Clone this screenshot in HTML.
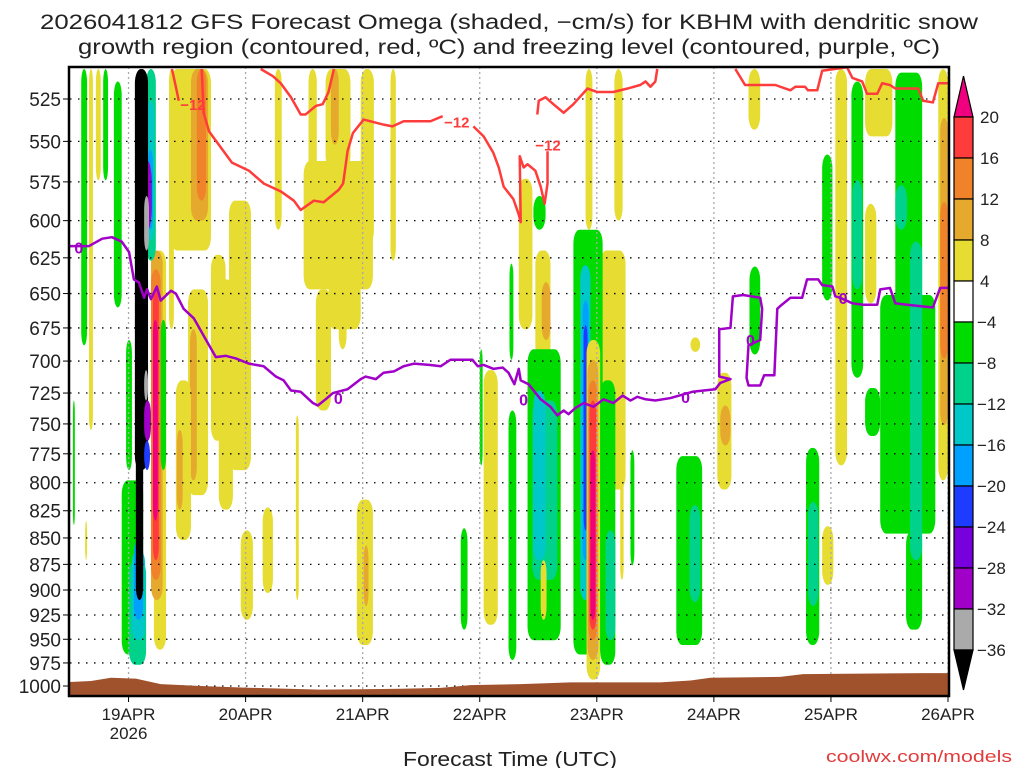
<!DOCTYPE html>
<html><head><meta charset="utf-8"><style>
html,body{margin:0;padding:0;background:#fff;}
svg{display:block;font-family:"Liberation Sans",sans-serif;}
</style></head><body>
<svg id="chart" width="1024" height="768" viewBox="0 0 1024 768" xmlns="http://www.w3.org/2000/svg">
<rect width="1024" height="768" fill="#fff"/>
<text x="40" y="29" font-size="21" fill="#222" textLength="938" lengthAdjust="spacingAndGlyphs">2026041812 GFS Forecast Omega (shaded, −cm/s) for KBHM with dendritic snow</text>
<text x="78" y="54" font-size="21" fill="#222" textLength="862" lengthAdjust="spacingAndGlyphs">growth region (contoured, red, ºC) and freezing level (contoured, purple, ºC)</text>
<defs><clipPath id="plotclip"><rect x="70" y="67" width="878" height="628"/></clipPath></defs>
<g id="shading" clip-path="url(#plotclip)"></g>
<g id="grid"></g>
<g id="ground" clip-path="url(#plotclip)"></g>
<g id="contours" clip-path="url(#plotclip)"></g>
<rect x="69" y="67" width="880" height="629" fill="none" stroke="#000" stroke-width="2.5"/>
<g id="axes"></g>
<g id="colorbar"></g>
<text x="510" y="766" font-size="20" fill="#222" text-anchor="middle" textLength="214" lengthAdjust="spacingAndGlyphs">Forecast Time (UTC)</text>
<text x="826" y="762" font-size="17" fill="#e03c3c" textLength="186" lengthAdjust="spacingAndGlyphs">coolwx.com/models</text>
</svg>
<script>
// ---- data ----
const levels = [525,550,575,600,625,650,675,700,725,750,775,800,825,850,875,900,925,950,975,1000];
const dayHours = [12,36,60,84,108,132,156,180];
const dayLabels = ["19APR","20APR","21APR","22APR","23APR","24APR","25APR","26APR"];
const cbValues = [20,16,12,8,4,-4,-8,-12,-16,-20,-24,-28,-32,-36];
// omega patches: start hour, end hour, top hPa, bottom hPa, value (-cm/s)
const patchH1 = [2.3,3.9,5.3,6.8,9.0,0.6,3.1,11.5,10.6,12.1,12.7,13.1,20.3,20.7,24.8,26.0,24.2,24.6,21.7,21.9,28.9,32.6,35.0,30.5,17.2,16.6,16.6,18.6,15.6,15.8,16.0,16.0,15.2,17.0,17.0,13.3,13.5,15.2,15.2,15.2,15.2,39.5,46.3,58.8,60.2,42.0,48.9,52.4,59.6,47.9,50.4,55.1,53.0,53.5,65.7,80.1,84.8,84.0,90.1,92.0,95.0,95.4,96.7,89.9,93.8,94.8,95.0,96.5,105.7,111.6,108.7,103.2,104.6,105.1,105.3,105.9,106.1,106.3,106.5,106.7,108.7,109.8,114.9,112.8,124.3,127.0,127.2,132.7,133.3,139.3,139.1,150.9,151.3,154.2,154.2,156.9,160.2,160.4,163.0,163.0,169.2,166.1,163.0,171.4,169.2,172.2,178.0,178.4,178.4];
const patchH2 = [3.5,4.7,6.3,7.8,10.6,1.0,3.5,12.7,15.0,15.6,15.4,15.0,21.3,28.9,28.3,27.9,28.3,26.0,24.8,23.1,31.9,37.1,37.5,33.4,19.7,19.0,18.6,19.7,17.6,17.2,17.0,16.8,16.6,18.2,18.0,16.0,15.0,16.2,16.0,16.6,16.4,41.6,46.9,62.1,61.2,43.4,50.6,57.5,62.3,62.1,53.5,56.7,59.6,55.1,66.8,81.5,87.7,84.6,90.9,94.8,97.5,98.5,98.5,91.5,100.6,99.9,97.5,97.7,107.1,113.3,113.9,109.2,106.7,106.3,106.1,108.7,108.3,108.1,107.9,107.7,111.8,111.8,115.7,113.5,129.6,129.2,129.2,135.6,135.4,141.5,141.5,153.6,153.4,156.5,156.3,159.3,162.6,162.4,165.3,168.6,174.7,177.4,166.1,174.7,171.6,174.7,180,180,180];
const patchP1 = [508,508,508,508,515,731,834,684,798,871,861,852,508,508,508,508,647,676,715,755,623,587,843,640,620,620,633,669,508,526,555,567,562,647,669,508,770,584,707,731,764,822,743,815,857,508,508,508,508,562,647,647,640,508,508,841,707,691,629,573,584,620,642,739,691,731,723,871,508,508,620,606,630,655,673,684,699,715,731,772,715,843,772,759,777,820,682,709,735,631,508,770,817,839,558,508,515,574,589,508,510,651,721,843,577,614,508,536,588];
const patchP2 = [688,755,574,574,660,838,871,789,966,977,951,930,676,620,600,587,811,798,852,824,764,789,930,824,961,910,890,789,627,613,606,600,606,871,834,789,910,620,731,764,789,903,910,956,916,606,574,567,616,647,739,691,676,552,627,940,935,785,699,676,606,699,684,972,951,890,871,930,606,600,806,966,910,871,843,993,972,951,940,930,977,951,876,890,956,912,693,806,768,695,543,956,916,895,655,785,713,647,657,547,843,846,760,940,606,871,798,751,698];
const patchVal = [-5,5,5,-5,-5,-5,5,-5,-5,-9,-13,-17,5,5,9,13,5,9,5,9,5,5,5,5,5,9,13,-5,-9,-13,-17,-21,-29,17,22,-40,-40,-33,-33,-29,-21,5,5,5,9,5,5,5,5,5,5,5,5,9,5,-5,5,-5,-5,5,-5,5,9,-5,-5,-9,-13,5,5,5,5,-5,-13,-17,-21,5,9,13,17,22,-5,-9,-5,5,-5,-9,5,5,9,-5,5,-5,-9,5,-5,5,-5,-9,5,5,-5,-5,-5,-5,-9,-9,5,9,13];
// contours (hour, hPa)
const frzH = [0,3.9,6.6,8.6,10.6,12.1,13.1,14.1,15.2,15.8,16.6,17.8,18.6,20.7,21.7,23.3,25.4,27.9,29.9,31.9,34.0,36.7,39.7,42.2,43.8,45.3,47.3,49.8,50.8,52.4,53.9,56.9,59.6,60.6,62.7,64.3,66.4,68.4,70.5,73.9,76.0,78.0,80.1,82.5,83.6,84.8,86.8,88.7,89.9,91.1,92.0,92.4,94.0,96.5,98.5,99.9,101.2,102.2,103.6,105.3,107.3,109.4,111.4,113.3,114.9,116.3,118.0,120.0,123.1,127.6,132.3,133.3,135.4,133.1,133.1,135.4,135.9,138.0,141.5,141.9,141.5,139.1,138.7,139.1,141.5,142.3,144.4,145.0,145.6,147.7,150.1,151.1,153.4,154.2,156.3,156.9,157.9,160.4,162.6,165.5,166.1,168.1,169.2,171.6,176.9,178.4,180];
const frzP = [617,617,612,611,614,621,640,642,653,647,654,645,655,648,650,661,668,684,697,696,698,702,704,712,715,723,724,733,735,730,725,722,714,712,714,709,708,704,702,703,704,699,699,699,704,703,706,705,709,718,706,715,718,730,736,743,739,742,737,733,736,730,733,727,731,728,730,731,729,724,722,717,714,712,676,675,652,651,653,661,684,688,713,719,719,711,711,661,659,653,653,640,640,644,645,652,653,657,658,658,647,646,657,658,660,646,646];
const frzLabelH = [1.8,55.0,93.0,126.2,139.5,158.5];
const frzLabelP = [618,729,730,728,684,653];
const dgzAH = [20.9,21.7,22.3];
const dgzAP = [508,518,526];
const dgzB1H = [27.0,27.4,28.5,33.2,36.7,39.7,43.2,45.9,47.3,50.0,52.0,55.1,56.0,56.9,58.0,60.2,64.3,66.1,68.4,71.3,73.9,76.4];
const dgzB1P = [508,533,544,563,568,576,581,587,593,587,588,580,576,556,545,537,540,541,538,538,538,535];
const dgzB2H = [82.7,84.8,86.8,87.9,88.9,90.9,92.0,92.4,92.2,93.0,93.8,95.4,96.5,97.3,97.9,97.9];
const dgzB2P = [541,547,557,566,578,586,596,601,559,566,564,568,578,589,576,556];
const dgzB3H = [95.8,96.1,97.5,99.1,101.2,103.2,106.1,108.1,111.4,114.3,116.9,118.0,119.0,120.0,120.4];
const dgzB3P = [534,526,524,528,533,528,519,521,521,519,517,515,518,515,508];
const dgzCH = [39.1,41.6,43.2,45.3,47.3,48.3,50.4,51.8,53.0,54.1];
const dgzCP = [508,512,516,524,534,534,529,528,521,508];
const dgzDH = [136.4,138.4,144.6,147.7,148.7,150.7,151.3,153.2,154.2,159.3,160.4,162.4,163.4,165.5,166.5,168.1,169.2,173.9,174.9,176.9,178.0,180];
const dgzDP = [508,517,517,520,518,518,520,520,509,507,513,515,522,522,516,517,519,519,526,527,516,516];
const dgzLabelH = [25.2,79.3,98.0];
const dgzLabelP = [528,538,552];
const groundH = [0,4.3,8.4,13.5,18.6,26.8,37.1,51.4,67.8,76.0,82.1,92.4,102.6,121.0,127.2,131.3,145.6,150.3,174.9,180];
const groundP = [995.6,994.5,991,992,998,1000,1002,1004,1003,1002,999,998,996,996,994,991,990,987,986,986];

// ---- scales ----
const X0=70, X1=948, HMAX=180;
function xs(h){ return X0 + h*(X1-X0)/HMAX; }
function ys(p){ return 686 + 911*Math.log(p/1000); }
function color(v){
  if(v>20) return '#f0007f'; if(v>16) return '#ff3c3c'; if(v>12) return '#f0822a';
  if(v>8) return '#e5aa2d'; if(v>4) return '#e6dc32'; if(v>=-4) return '#ffffff';
  if(v>=-8) return '#00dc00'; if(v>=-12) return '#00d28c'; if(v>=-16) return '#00c8c8';
  if(v>=-20) return '#00a0ff'; if(v>=-24) return '#1e3cff'; if(v>=-28) return '#7800dc';
  if(v>=-32) return '#a000c8'; if(v>=-36) return '#aaaaaa'; return '#000000';
}
const NS='http://www.w3.org/2000/svg';
function mk(tag,attrs,parent){ const e=document.createElementNS(NS,tag); for(const k in attrs) e.setAttribute(k,attrs[k]); parent.appendChild(e); return e; }

// shading
const gS=document.getElementById('shading');
for(let i=0;i<patchVal.length;i++){
  const x1=xs(patchH1[i]), x2=xs(patchH2[i]), y1=ys(patchP1[i]), y2=ys(patchP2[i]);
  const w=Math.max(1.5,x2-x1), h=y2-y1;
  const r=mk('rect',{x:x1,y:y1,width:w,height:h,rx:Math.min(w/2,6),ry:Math.min(h/2,14),fill:color(patchVal[i])},gS);
  
  
}

// grid
const gG=document.getElementById('grid');
levels.forEach(p=>{
  const l=mk('line',{x1:X0,x2:X1,y1:ys(p),y2:ys(p),stroke:'#000','stroke-width':1.3,'stroke-dasharray':'1.5 6.5'},gG);
  
  
});
dayHours.forEach(h=>{
  const l=mk('line',{x1:xs(h),x2:xs(h),y1:67,y2:695,stroke:'#aaa','stroke-width':1.3,'stroke-dasharray':'2 3'},gG);
  
  
});

// ground
const gR=document.getElementById('ground');
let gd='M'+xs(groundH[0])+' 700';
for(let i=0;i<groundH.length;i++) gd+=' L'+xs(groundH[i])+' '+ys(groundP[i]);
gd+=' L'+xs(groundH[groundH.length-1])+' 700 Z';
const gp=mk('path',{d:gd,fill:'#a0522d'},gR);



// contours
const gC=document.getElementById('contours');
function line(H,P,col,name){
  let d='';
  for(let i=0;i<H.length;i++) d+=(i?' L':'M')+xs(H[i])+' '+ys(P[i]);
  const e=mk('path',{d:d,fill:'none',stroke:col,'stroke-width':2.5,'stroke-linejoin':'round'},gC);
  
  
}
line(frzH,frzP,'#a000c8','freezing-level-contour');
line(dgzAH,dgzAP,'#ff3c3c','dgz-contour');
line(dgzB1H,dgzB1P,'#ff3c3c','dgz-contour');
line(dgzB2H,dgzB2P,'#ff3c3c','dgz-contour');
line(dgzB3H,dgzB3P,'#ff3c3c','dgz-contour');
line(dgzCH,dgzCP,'#ff3c3c','dgz-contour');
line(dgzDH,dgzDP,'#ff3c3c','dgz-contour');
frzLabelH.forEach((h,i)=>{
  const t=mk('text',{x:xs(h),y:ys(frzLabelP[i])+6,'font-size':16,'font-weight':'bold',fill:'#a000c8','text-anchor':'middle'},gC);
  t.textContent='0';
  
  
});
dgzLabelH.forEach((h,i)=>{
  const t=mk('text',{x:xs(h),y:ys(dgzLabelP[i])+6,'font-size':15,'font-weight':'bold',fill:'#ff3c3c','text-anchor':'middle'},gC);
  t.textContent='−12';
  
  
});

// axes
const gA=document.getElementById('axes');
levels.forEach(p=>{
  const t=mk('text',{x:61,y:ys(p)+7,'font-size':19,fill:'#222','text-anchor':'end'},gA);
  t.textContent=String(p);
  
  
  const k=mk('line',{x1:63,x2:69,y1:ys(p),y2:ys(p),stroke:'#000','stroke-width':1},gA);
  
  
});
dayHours.forEach((h,i)=>{
  const k=mk('line',{x1:xs(h),x2:xs(h),y1:696,y2:702,stroke:'#000','stroke-width':1},gA);
  
  
  const t=mk('text',{x:xs(h),y:720,'font-size':17,fill:'#222','text-anchor':'middle'},gA);
  t.textContent=dayLabels[i];
  
  
});
const yr=mk('text',{x:xs(dayHours[0]),y:739,'font-size':17,fill:'#222','text-anchor':'middle'},gA);
yr.textContent='2026';



// colorbar
const gB=document.getElementById('colorbar');
const CBX=954, CBW=19, CBY0=117, CBD=41;
function cy(i){ return CBY0 + i*CBD; }
const cbTop=mk('path',{d:`M${CBX} ${cy(0)} L${CBX+CBW/2} 76 L${CBX+CBW} ${cy(0)} Z`,fill:color(22),stroke:'#000','stroke-width':1.2},gB);


for(let i=0;i<cbValues.length-1;i++){
  const mid=(cbValues[i]+cbValues[i+1])/2;
  const r=mk('rect',{x:CBX,y:cy(i),width:CBW,height:CBD,fill:color(mid===0?0:mid-0.01),stroke:'#000','stroke-width':1.2},gB);
  
  
}
const nBox=cbValues.length-1;
const cbBot=mk('path',{d:`M${CBX} ${cy(nBox)} L${CBX+CBW/2} 690 L${CBX+CBW} ${cy(nBox)} Z`,fill:'#000',stroke:'#000','stroke-width':1.2},gB);


cbValues.forEach((v,i)=>{
  const t=mk('text',{x:v<0?977:980,y:cy(i)+6,'font-size':17,fill:'#222'},gB);
  t.textContent=v<0?'−'+Math.abs(v):String(v);
  
  
});
</script>
</body></html>
